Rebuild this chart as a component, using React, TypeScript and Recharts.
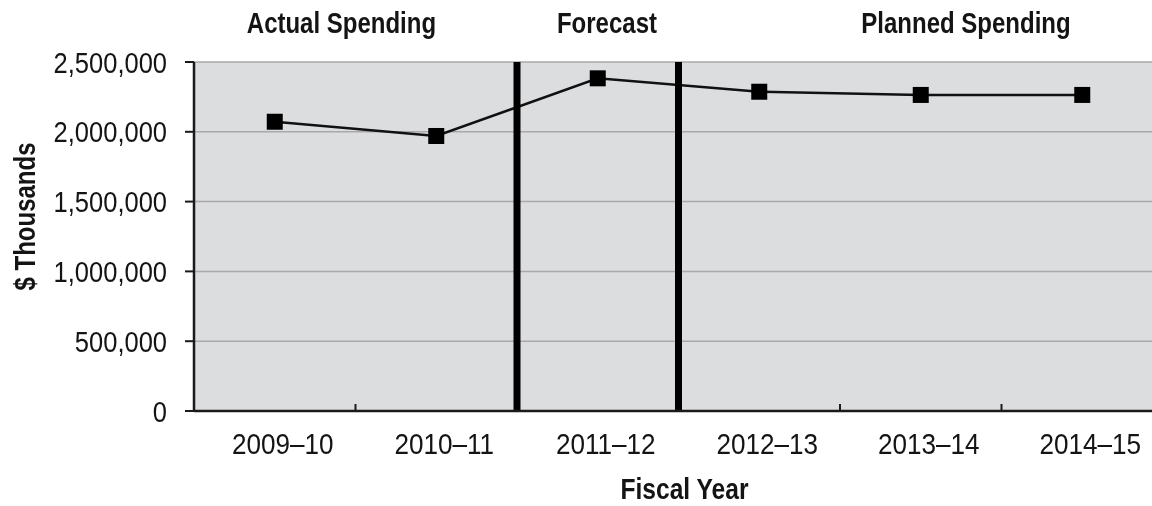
import React from 'react';
import {
  LineChart,
  Line,
  XAxis,
  YAxis,
  CartesianGrid,
  ReferenceLine,
  ReferenceDot,
} from 'recharts';

const categories = ['2009–10', '2010–11', '2011–12', '2012–13', '2013–14', '2014–15'];
const spending = [2072000, 1970000, 2383000, 2287000, 2264000, 2264000];
const yTicks = [0, 500000, 1000000, 1500000, 2000000, 2500000];
const sectionDividers = [2, 3];
const minorTicks = [1, 4, 5];
const sectionTitles = ['Actual Spending', 'Forecast', 'Planned Spending'];
const sectionTitlePos = [0.913, 2.557, 4.78];

const data = categories.map((c, i) => ({ x: i + 0.5, name: c, value: spending[i] }));
const xTicks = categories.map((_, i) => i + 0.5);

const FONT = "'Liberation Sans', Arial, sans-serif";

type CTProps = {
  x: number;
  y: number;
  anchor?: 'start' | 'middle' | 'end';
  bold?: boolean;
  sx?: number;
  size?: number;
  rotate?: number;
  children: React.ReactNode;
};

const CondText = ({ x, y, anchor = 'middle', bold = false, sx = 0.85, size = 30, rotate = 0, children }: CTProps) => (
  <text
    transform={`translate(${x},${y}) rotate(${rotate}) scale(${sx},1)`}
    x={0}
    y={0}
    textAnchor={anchor}
    fontFamily={FONT}
    fontWeight={bold ? 'bold' : 'normal'}
    fontSize={size}
    fill="#141414"
  >
    {children}
  </text>
);

const XTick = (props: any) => {
  const { x, y, payload } = props;
  return (
    <CondText x={x + 8} y={y + 22} sx={0.87}>
      {categories[Math.floor(payload.value)]}
    </CondText>
  );
};

const YTick = (props: any) => {
  const { x, y, payload } = props;
  return (
    <CondText x={x} y={y + 10.5} anchor="end">
      {Number(payload.value).toLocaleString('en-US')}
    </CondText>
  );
};

const SquareDot = (props: any) => {
  const { cx, cy } = props;
  if (cx == null || cy == null) return null;
  return <rect x={cx - 8} y={cy - 8} width={16} height={16} fill="#000" />;
};

const YLabel = (props: any) => {
  const vb = props.viewBox || {};
  const cx = (vb.x || 0) + 35;
  const cy = (vb.y || 0) + (vb.height || 0) / 2 - 20;
  return (
    <CondText x={cx} y={cy} rotate={-90} bold sx={0.8}>
      $ Thousands
    </CondText>
  );
};

const XLabel = (props: any) => {
  const vb = props.viewBox || {};
  const cx = (vb.x || 0) + (vb.width || 0) / 2 + 6;
  const cy = (vb.y || 0) + (vb.height || 0) - 7;
  return (
    <CondText x={cx} y={cy} bold sx={0.82}>
      Fiscal Year
    </CondText>
  );
};

const makeTitle = (text: string) => (props: any) => {
  const vb = props.viewBox || {};
  const cx = (vb.x || 0) + (vb.width || 0) / 2;
  const cy = (vb.y || 0) - 29;
  return (
    <CondText x={cx} y={cy} bold sx={0.8}>
      {text}
    </CondText>
  );
};

export default function App() {
  return (
    <div style={{ position: 'fixed', left: 0, top: 0, width: 1152, height: 506, overflow: 'hidden' }}>
      <LineChart
        width={1168}
        height={506}
        data={data}
        margin={{ top: 62, right: 5, bottom: 0, left: 0 }}
      >
        <CartesianGrid
          horizontal
          vertical={false}
          fill="#dcdddf"
          fillOpacity={1}
          stroke="#a9a9ab"
          strokeWidth={1.5}
        />
        <XAxis
          dataKey="x"
          type="number"
          domain={[0, 6]}
          ticks={xTicks}
          interval={0}
          tickLine={false}
          tickSize={0}
          tickMargin={21}
          height={95}
          axisLine={{ stroke: '#1a1a1a', strokeWidth: 2.5 }}
          tick={<XTick />}
          label={<XLabel />}
        />
        <YAxis
          type="number"
          domain={[0, 2500000]}
          ticks={yTicks}
          interval={0}
          width={194}
          tickSize={9}
          tickMargin={18}
          tickLine={{ stroke: '#1a1a1a', strokeWidth: 2 }}
          axisLine={{ stroke: '#1a1a1a', strokeWidth: 2.5 }}
          tick={<YTick />}
          label={<YLabel />}
        />
        {minorTicks.map((t) => (
          <ReferenceLine
            key={'mt' + t}
            segment={[
              { x: t, y: 0 },
              { x: t, y: 50000 },
            ]}
            stroke="#1a1a1a"
            strokeWidth={2}
          />
        ))}
        <Line
          type="linear"
          dataKey="value"
          stroke="#111"
          strokeWidth={2.5}
          dot={<SquareDot />}
          activeDot={false}
          isAnimationActive={false}
        />
        {sectionDividers.map((d) => (
          <ReferenceLine key={'sd' + d} x={d} stroke="#000" strokeWidth={7} />
        ))}
        {sectionTitles.map((t, i) => (
          <ReferenceDot
            key={'st' + i}
            x={sectionTitlePos[i]}
            y={2500000}
            r={0}
            fill="none"
            stroke="none"
            ifOverflow="visible"
            label={{ content: makeTitle(t) }}
          />
        ))}
      </LineChart>
    </div>
  );
}
